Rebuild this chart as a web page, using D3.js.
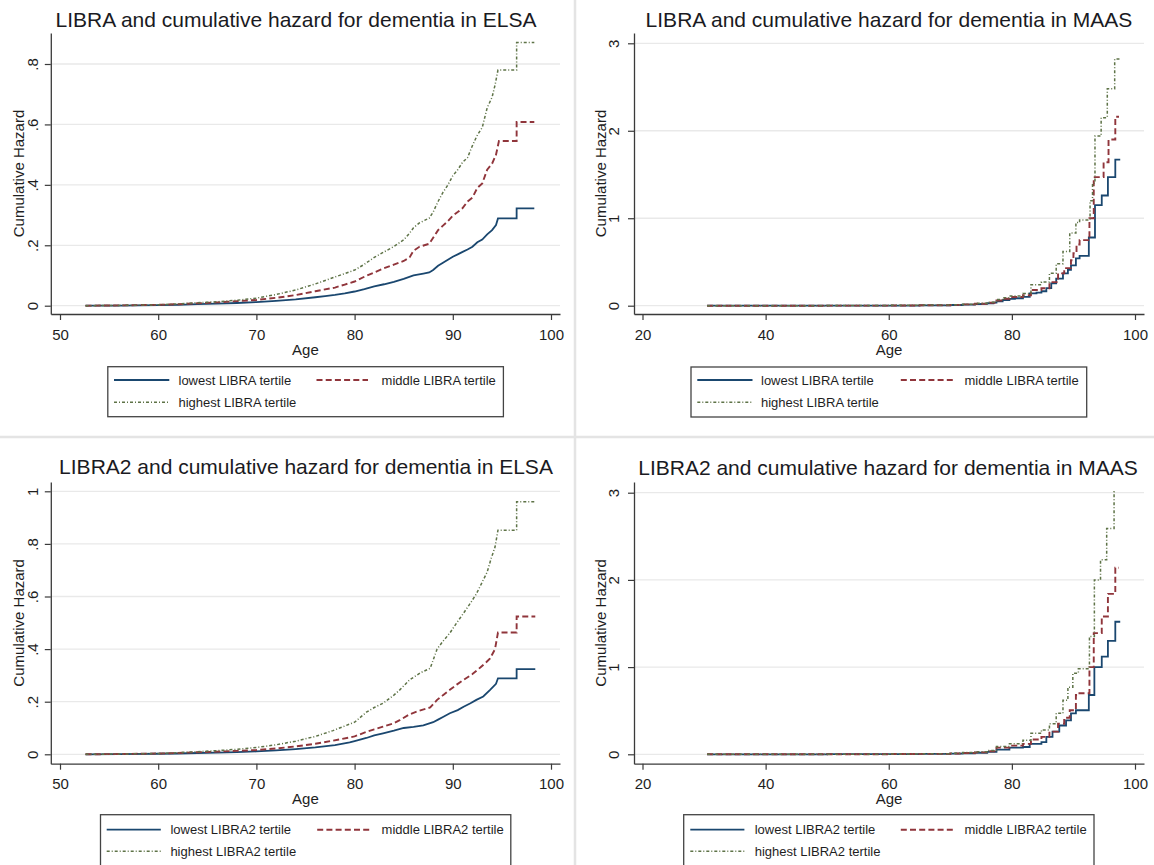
<!DOCTYPE html>
<html><head><meta charset="utf-8">
<script src="https://cdn.jsdelivr.net/npm/d3@7"></script>
<style>
html,body{margin:0;padding:0;background:#fff;}
svg{display:block;font-family:"Liberation Sans",Arial,sans-serif;}
</style></head>
<body>
<svg id="chart" width="1154" height="865"></svg>
<script>
// ---------------- DATA ----------------
const titles = [
  "LIBRA and cumulative hazard for dementia in ELSA",
  "LIBRA and cumulative hazard for dementia in MAAS",
  "LIBRA2 and cumulative hazard for dementia in ELSA",
  "LIBRA2 and cumulative hazard for dementia in MAAS"
];
const yAxisTitle = "Cumulative Hazard";
const xAxisTitle = "Age";
const elsaXTicks = [50, 60, 70, 80, 90, 100];
const maasXTicks = [20, 40, 60, 80, 100];
const elsaLibraYTicks = [0, 0.2, 0.4, 0.6, 0.8];
const elsaLibra2YTicks = [0, 0.2, 0.4, 0.6, 0.8, 1];
const maasYTicks = [0, 1, 2, 3];
const libraLegend = ["lowest LIBRA tertile", "middle LIBRA tertile", "highest LIBRA tertile"];
const libra2Legend = ["lowest LIBRA2 tertile", "middle LIBRA2 tertile", "highest LIBRA2 tertile"];

// ELSA, LIBRA  [age, cumulative hazard] (traced path incl. visible steps)
const elsaLibraLowest = [[52.6,0],[56,0.0005],[60,0.002],[62,0.003],[64,0.005],[66,0.007],[68,0.009],[70,0.012],[72,0.016],[74,0.021],[76,0.028],[77,0.032],[78,0.036],[79,0.041],[80,0.047],[81,0.055],[82,0.064],[83,0.071],[84,0.079],[85,0.089],[86,0.1],[87,0.106],[87.6,0.11],[88,0.118],[88.5,0.132],[89,0.142],[89.5,0.152],[90,0.162],[90.5,0.17],[91,0.178],[91.5,0.186],[92,0.195],[92.5,0.21],[93,0.219],[93.5,0.236],[94,0.25],[94.4,0.267],[94.6,0.289],[96.5,0.289],[96.5,0.322],[98.3,0.322]];
const elsaLibraMiddle = [[52.6,0],[56,0.001],[60,0.003],[62,0.005],[64,0.008],[66,0.011],[68,0.015],[70,0.019],[72,0.026],[74,0.035],[76,0.048],[78,0.06],[79,0.07],[80,0.08],[81,0.096],[82,0.11],[83,0.124],[84,0.136],[85,0.148],[85.6,0.16],[86,0.182],[86.6,0.195],[87.6,0.205],[88,0.225],[88.5,0.25],[89,0.265],[89.5,0.28],[90,0.298],[90.5,0.31],[91,0.323],[91.5,0.345],[92,0.358],[92.5,0.39],[93,0.405],[93.5,0.45],[94,0.47],[94.4,0.5],[94.7,0.545],[96.5,0.545],[96.5,0.608],[98.3,0.608]];
const elsaLibraHighest = [[52.6,0],[56,0.001],[60,0.003],[62,0.006],[64,0.01],[66,0.013],[68,0.018],[70,0.025],[72,0.037],[74,0.052],[76,0.072],[78,0.095],[79.5,0.112],[80,0.118],[81,0.137],[82,0.16],[83,0.178],[84,0.196],[85,0.218],[85.6,0.24],[86,0.258],[86.6,0.274],[87.6,0.29],[88,0.31],[88.5,0.345],[89,0.375],[89.5,0.4],[90,0.43],[90.5,0.45],[91,0.475],[91.5,0.49],[92,0.53],[92.5,0.565],[93,0.59],[93.5,0.655],[94,0.69],[94.3,0.73],[94.6,0.78],[96.5,0.78],[96.5,0.871],[98.3,0.871]];

// MAAS, LIBRA (step points)
const maasLibraLowest = [[30.5,0],[40,0],[50,0.001],[60,0.002],[65,0.004],[70,0.008],[72,0.012],[74,0.018],[75,0.022],[76,0.028],[77,0.035],[77.5,0.05],[78.5,0.065],[79.6,0.078],[80.5,0.085],[81.8,0.1],[82.9,0.14],[84,0.15],[84.8,0.165],[85.6,0.2],[86.4,0.255],[87.2,0.31],[88.3,0.37],[89.1,0.41],[89.6,0.46],[90.4,0.54],[91,0.57],[92.5,0.78],[93.5,1.15],[94.6,1.26],[95.6,1.47],[96.8,1.67],[97.6,1.67]];
const maasLibraMiddle = [[30.5,0],[40,0],[50,0.001],[60,0.003],[65,0.005],[70,0.01],[72,0.015],[74,0.022],[76,0.033],[77.5,0.06],[78.5,0.08],[79.6,0.1],[81.8,0.12],[83.1,0.18],[84.8,0.2],[86.1,0.27],[87.5,0.37],[88.5,0.43],[89.6,0.52],[90,0.6],[90.5,0.7],[91,0.75],[92.3,0.75],[92.6,1.0],[93.3,1.47],[94.9,1.64],[95.7,1.9],[96.8,2.16],[97.4,2.16]];
const maasLibraHighest = [[30.5,0],[40,0],[50,0.001],[60,0.004],[65,0.007],[70,0.012],[72,0.018],[74,0.027],[76,0.04],[77.5,0.07],[78.5,0.09],[79.6,0.11],[81.8,0.14],[83.1,0.24],[84.8,0.27],[86.1,0.37],[87.2,0.48],[88.3,0.62],[89.4,0.83],[90.4,0.95],[91,0.98],[92.2,0.98],[92.7,1.2],[93.1,1.4],[93.5,1.94],[94.5,2.15],[95.5,2.48],[96.7,2.82],[97.5,2.82]];

// ELSA, LIBRA2 (traced path incl. visible steps)
const elsaLibra2Lowest = [[52.6,0],[56,0.0005],[60,0.002],[62,0.003],[64,0.005],[66,0.006],[68,0.008],[70,0.011],[72,0.015],[74,0.02],[76,0.026],[78,0.035],[79.5,0.045],[80,0.05],[81.2,0.062],[82,0.072],[82.9,0.08],[84,0.09],[85,0.1],[86,0.104],[87,0.11],[88,0.122],[88.5,0.132],[89,0.142],[89.7,0.156],[90.5,0.168],[91.1,0.181],[91.8,0.194],[92.4,0.207],[93.1,0.22],[93.8,0.245],[94.4,0.268],[94.6,0.289],[96.5,0.289],[96.5,0.324],[98.4,0.324]];
const elsaLibra2Middle = [[52.6,0],[56,0.001],[60,0.003],[62,0.005],[64,0.008],[66,0.01],[68,0.013],[70,0.016],[72,0.022],[74,0.03],[76,0.04],[77.8,0.052],[79.5,0.064],[80,0.068],[81.2,0.085],[82,0.095],[82.9,0.105],[84,0.118],[84.6,0.13],[85.6,0.152],[86.5,0.165],[87.7,0.178],[88.4,0.207],[89,0.225],[89.7,0.245],[90.4,0.265],[91.1,0.283],[92,0.305],[92.8,0.33],[93.4,0.35],[93.8,0.365],[94.3,0.4],[94.6,0.463],[96.5,0.463],[96.5,0.524],[98.4,0.524]];
const elsaLibra2Highest = [[52.6,0],[56,0.001],[60,0.003],[62,0.006],[64,0.01],[66,0.014],[68,0.019],[70,0.026],[72,0.036],[74,0.05],[76,0.068],[77.8,0.09],[79.5,0.115],[80,0.122],[81.2,0.16],[82,0.178],[82.9,0.194],[84,0.225],[84.6,0.245],[85.6,0.283],[86.7,0.31],[87.7,0.327],[88.4,0.4],[89,0.43],[89.7,0.461],[90.4,0.5],[91.1,0.537],[91.8,0.575],[92.4,0.61],[93,0.655],[93.5,0.693],[93.9,0.744],[94.3,0.788],[94.6,0.852],[96.5,0.852],[96.5,0.96],[98.4,0.96]];

// MAAS, LIBRA2 (step points)
const maasLibra2Lowest = [[30.5,0],[40,0],[50,0.001],[60,0.002],[65,0.004],[70,0.008],[72,0.012],[74,0.018],[76,0.028],[77.5,0.054],[79.6,0.077],[81.8,0.084],[82.9,0.12],[84.8,0.14],[85.6,0.2],[86.6,0.26],[87.7,0.33],[88.8,0.39],[89.6,0.47],[90.4,0.505],[92.5,0.68],[93.4,1.0],[94.6,1.12],[95.6,1.3],[96.8,1.52],[97.6,1.52]];
const maasLibra2Middle = [[30.5,0],[40,0],[50,0.001],[60,0.003],[65,0.005],[70,0.01],[72,0.015],[74,0.022],[76,0.035],[77.5,0.077],[79.6,0.1],[81.8,0.12],[83.1,0.17],[84.8,0.2],[86.1,0.26],[87.5,0.35],[88.5,0.42],[89.4,0.505],[90.4,0.68],[90.8,0.7],[92.3,0.7],[92.6,1.0],[93.3,1.39],[94.6,1.58],[95.6,1.84],[96.8,2.14],[97.4,2.14]];
const maasLibra2Highest = [[30.5,0],[40,0],[50,0.001],[60,0.004],[65,0.007],[70,0.013],[72,0.02],[74,0.03],[76,0.045],[77.5,0.09],[79.6,0.12],[81.8,0.16],[83.1,0.24],[84.8,0.28],[86.1,0.35],[87.2,0.47],[88.3,0.62],[89.1,0.77],[89.9,0.93],[90.8,0.98],[92.2,0.98],[92.6,1.35],[93.4,2.0],[94.4,2.23],[95.4,2.59],[96.6,3.01],[96.9,3.01]];

// ---------------- STYLE ----------------
const seriesStyle = [
  {color:"#1a476f", dash:null, width:1.8},
  {color:"#90353b", dash:"6,3.2", width:1.9},
  {color:"#5e7347", dash:"3,2,1,2", width:1.5}
];
const FONT = '"Liberation Sans", Arial, sans-serif';

const svg = d3.select("#chart");

// separators
svg.append("line").attr("x1",575).attr("x2",575).attr("y1",0).attr("y2",865)
  .attr("stroke","#e4e4e4").attr("stroke-width",2.5);
svg.append("line").attr("x1",0).attr("x2",1154).attr("y1",437).attr("y2",437)
  .attr("stroke","#e4e4e4").attr("stroke-width",2.5);

function mkScale(d0, r0, d1, r1, rmin, rmax) {
  const s = d3.scaleLinear().domain([d0, d1]).range([r0, r1]);
  return d3.scaleLinear().domain([s.invert(rmin), s.invert(rmax)]).range([rmin, rmax]);
}

function tickFmt(v) {
  if (v === 0) return "0";
  if (Number.isInteger(v)) return String(v);
  return String(v).replace(/^0/, "");
}

function drawPanel(p) {
  const g = svg.append("g");
  const x = mkScale(p.xa[0], p.xa[1], p.xb[0], p.xb[1], p.xr[0], p.xr[1]);
  const y = mkScale(p.ya[0], p.ya[1], p.yb[0], p.yb[1], p.yr[0], p.yr[1]);

  // gridlines
  g.append("g").selectAll("line").data(p.yTicks).join("line")
    .attr("x1", p.xr[0]).attr("x2", p.xr[1])
    .attr("y1", d => y(d)).attr("y2", d => y(d))
    .attr("stroke", "#e9e9e9").attr("stroke-width", 1.3);

  // x axis
  const gx = g.append("g").attr("transform", `translate(0,${p.yr[0]})`)
    .call(d3.axisBottom(x).tickValues(p.xTicks).tickSize(6).tickSizeOuter(0).tickFormat(d => String(d)));
  gx.select(".domain").attr("stroke", "#3a3a3a").attr("stroke-width", 1.3);
  gx.selectAll(".tick line").attr("stroke", "#3a3a3a").attr("stroke-width", 1.2);
  gx.selectAll(".tick text").attr("y", p.xLabelOff).attr("dy", 0)
    .attr("font-size", 15).attr("font-family", FONT).attr("fill", "#1e1e1e");

  // y axis
  const gy = g.append("g").attr("transform", `translate(${p.xr[0]},0)`)
    .call(d3.axisLeft(y).tickValues(p.yTicks).tickSize(6).tickSizeOuter(0).tickFormat(tickFmt));
  gy.select(".domain").attr("stroke", "#3a3a3a").attr("stroke-width", 1.3);
  gy.selectAll(".tick line").attr("stroke", "#3a3a3a").attr("stroke-width", 1.2);
  gy.selectAll(".tick text").attr("x", 0).attr("y", 0).attr("dy", "0.36em")
    .attr("transform", `translate(${p.yLabelOff},0) rotate(-90)`)
    .attr("text-anchor", "middle")
    .attr("font-size", 15).attr("font-family", FONT).attr("fill", "#1e1e1e");

  // axis titles
  g.append("text").attr("x", (p.xr[0] + p.xr[1]) / 2).attr("y", p.ageBase)
    .attr("text-anchor", "middle").attr("font-size", 15).attr("font-family", FONT)
    .attr("fill", "#1e1e1e").text(xAxisTitle);
  g.append("text")
    .attr("transform", `translate(${p.yTitleX},${(p.yr[0] + p.yr[1]) / 2}) rotate(-90)`)
    .attr("dy", "0.36em").attr("text-anchor", "middle").attr("font-size", 15)
    .attr("font-family", FONT).attr("fill", "#1e1e1e").text(yAxisTitle);

  // title
  g.append("text").attr("x", p.titleX).attr("y", p.titleBase)
    .attr("text-anchor", "middle").attr("font-size", 21).attr("font-family", FONT)
    .attr("fill", "#1a1a22").text(p.title);

  // lines
  const line = d3.line().x(d => x(d[0])).y(d => y(d[1])).curve(p.curve);
  p.series.forEach((s, i) => {
    const st = seriesStyle[i];
    g.append("path").datum(s).attr("d", line).attr("fill", "none")
      .attr("stroke", st.color).attr("stroke-width", st.width)
      .attr("stroke-dasharray", st.dash).attr("stroke-linejoin", "miter");
  });

  // legend
  const L = p.legend;
  g.append("rect").attr("x", L.box[0]).attr("y", L.box[1])
    .attr("width", L.box[2] - L.box[0]).attr("height", L.box[3] - L.box[1])
    .attr("fill", "#fff").attr("stroke", "#444").attr("stroke-width", 1.3);
  const items = [
    {s: L.s1, t: L.t1, y: L.rows[0]},
    {s: L.s2, t: L.t2, y: L.rows[0]},
    {s: L.s1, t: L.t1, y: L.rows[1]}
  ];
  items.forEach((it, i) => {
    const st = seriesStyle[i];
    g.append("line").attr("x1", it.s[0]).attr("x2", it.s[1]).attr("y1", it.y).attr("y2", it.y)
      .attr("stroke", st.color).attr("stroke-width", st.width).attr("stroke-dasharray", st.dash);
    g.append("text").attr("x", it.t).attr("y", it.y + 4.6)
      .attr("font-size", 13).attr("font-family", FONT).attr("fill", "#1e1e1e")
      .text(p.legendLabels[i]);
  });
}

const panels = [
  { title: titles[0], titleX: 296, titleBase: 26.7, curve: d3.curveLinear,
    xa:[50,60], xb:[100,551], xr:[50.8,560],
    ya:[0,305.7], yb:[0.8,64], yr:[314,33],
    xTicks: elsaXTicks, yTicks: elsaLibraYTicks,
    xLabelOff: 26, ageBase: 355, yLabelOff: -17.8, yTitleX: 18.4,
    series: [elsaLibraLowest, elsaLibraMiddle, elsaLibraHighest], legendLabels: libraLegend,
    legend: {box:[107.8,366.7,503.4,416.7], rows:[380,402.3], s1:[114,169.3], t1:178.5, s2:[316.5,368], t2:381.6} },
  { title: titles[1], titleX: 889, titleBase: 26.7, curve: d3.curveStepAfter,
    xa:[20,642.5], xb:[100,1135], xr:[634,1144],
    ya:[0,305.7], yb:[3,43.3], yr:[314,33],
    xTicks: maasXTicks, yTicks: maasYTicks,
    xLabelOff: 26, ageBase: 355, yLabelOff: -20, yTitleX: 601,
    series: [maasLibraLowest, maasLibraMiddle, maasLibraHighest], legendLabels: libraLegend,
    legend: {box:[691,367,1086.7,417], rows:[380,402.3], s1:[697.3,752.5], t1:761, s2:[900.8,956], t2:964.5} },
  { title: titles[2], titleX: 306, titleBase: 474, curve: d3.curveLinear,
    xa:[50,60], xb:[100,551], xr:[50.8,560],
    ya:[0,754.3], yb:[1,491.3], yr:[763.7,482],
    xTicks: elsaXTicks, yTicks: elsaLibra2YTicks,
    xLabelOff: 25, ageBase: 803.7, yLabelOff: -17.8, yTitleX: 18.4,
    series: [elsaLibra2Lowest, elsaLibra2Middle, elsaLibra2Highest], legendLabels: libra2Legend,
    legend: {box:[100.5,814.7,510.8,872], rows:[829.7,851.3], s1:[106.7,160.8], t1:170.4, s2:[317.2,372.4], t2:381.6} },
  { title: titles[3], titleX: 888, titleBase: 474.5, curve: d3.curveStepAfter,
    xa:[20,642.5], xb:[100,1135], xr:[634,1144],
    ya:[0,754.3], yb:[3,492.7], yr:[763.7,482],
    xTicks: maasXTicks, yTicks: maasYTicks,
    xLabelOff: 25, ageBase: 803.7, yLabelOff: -20, yTitleX: 601,
    series: [maasLibra2Lowest, maasLibra2Middle, maasLibra2Highest], legendLabels: libra2Legend,
    legend: {box:[683.7,814.7,1094,872], rows:[829.7,851.3], s1:[690.3,744.4], t1:754.7, s2:[900.8,956], t2:964.5} }
];
panels.forEach(drawPanel);
</script>
</body></html>
